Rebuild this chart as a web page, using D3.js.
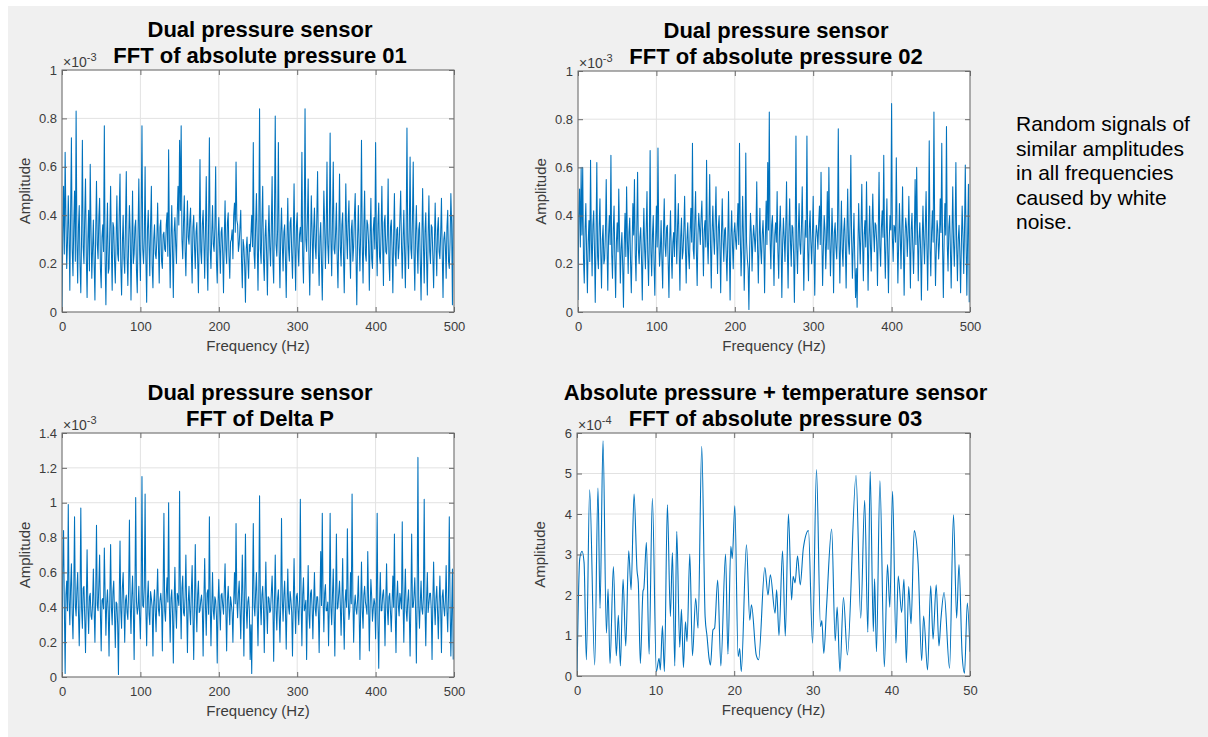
<!DOCTYPE html>
<html lang="en">
<head>
<meta charset="UTF-8">
<title>FFT of pressure sensors</title>
<script src="https://d3js.org/d3.v7.min.js"></script>
<style>
  body { margin: 0; background: #fff; }
  text { font-family: "Liberation Sans", Arial, sans-serif; }
</style>
</head>
<body>
<script>

// amplitude values, in units of the axis exponent (x10^-3 or x10^-4)
// noise panels: one value per 1 Hz bin, 0..499 Hz
var binStep = 1;

var amp01 = [
  0.02, 0.31, 0.52, 0.24, 0.66, 0.38, 0.18, 0.29, 0.48, 0.33,
  0.09, 0.41, 0.72, 0.26, 0.15, 0.36, 0.50, 0.21, 0.83, 0.30,
  0.12, 0.35, 0.44, 0.19, 0.08, 0.32, 0.71, 0.27, 0.20, 0.40,
  0.55, 0.23, 0.06, 0.30, 0.42, 0.17, 0.61, 0.34, 0.14, 0.26,
  0.38, 0.20, 0.05, 0.33, 0.54, 0.28, 0.22, 0.39, 0.47, 0.18,
  0.10, 0.31, 0.36, 0.25, 0.77, 0.22, 0.03, 0.29, 0.45, 0.16,
  0.18, 0.34, 0.52, 0.26, 0.09, 0.37, 0.35, 0.21, 0.12, 0.30,
  0.48, 0.24, 0.21, 0.41, 0.57, 0.19, 0.07, 0.28, 0.40, 0.22,
  0.16, 0.36, 0.58, 0.23, 0.11, 0.29, 0.44, 0.32, 0.05, 0.27,
  0.50, 0.20, 0.24, 0.35, 0.38, 0.17, 0.08, 0.33, 0.55, 0.25,
  0.13, 0.38, 0.77, 0.26, 0.20, 0.31, 0.60, 0.22, 0.04, 0.34,
  0.42, 0.28, 0.15, 0.37, 0.52, 0.19, 0.10, 0.30, 0.36, 0.24,
  0.22, 0.30, 0.45, 0.27, 0.12, 0.35, 0.38, 0.21, 0.18, 0.32,
  0.33, 0.26, 0.25, 0.36, 0.41, 0.23, 0.67, 0.29, 0.10, 0.31,
  0.44, 0.25, 0.06, 0.33, 0.39, 0.28, 0.20, 0.40, 0.52, 0.36,
  0.71, 0.42, 0.77, 0.30, 0.22, 0.37, 0.48, 0.26, 0.15, 0.32,
  0.46, 0.31, 0.28, 0.38, 0.43, 0.24, 0.12, 0.35, 0.40, 0.27,
  0.18, 0.33, 0.37, 0.22, 0.08, 0.30, 0.63, 0.25, 0.20, 0.36,
  0.42, 0.29, 0.14, 0.34, 0.56, 0.23, 0.09, 0.38, 0.72, 0.26,
  0.18, 0.32, 0.44, 0.28, 0.25, 0.35, 0.60, 0.21, 0.12, 0.30,
  0.39, 0.27, 0.16, 0.33, 0.35, 0.24, 0.08, 0.31, 0.46, 0.26,
  0.20, 0.37, 0.41, 0.23, 0.14, 0.29, 0.30, 0.34, 0.22, 0.40,
  0.45, 0.33, 0.62, 0.38, 0.36, 0.25, 0.28, 0.35, 0.42, 0.21,
  0.10, 0.30, 0.27, 0.19, 0.04, 0.26, 0.31, 0.22, 0.14, 0.28,
  0.25, 0.32, 0.40, 0.27, 0.70, 0.24, 0.18, 0.36, 0.49, 0.29,
  0.09, 0.33, 0.84, 0.26, 0.20, 0.38, 0.52, 0.22, 0.13, 0.31,
  0.38, 0.24, 0.07, 0.30, 0.44, 0.27, 0.19, 0.35, 0.56, 0.21,
  0.12, 0.39, 0.81, 0.28, 0.23, 0.34, 0.70, 0.25, 0.10, 0.32,
  0.43, 0.28, 0.17, 0.33, 0.36, 0.22, 0.06, 0.30, 0.47, 0.26,
  0.21, 0.37, 0.39, 0.24, 0.14, 0.31, 0.53, 0.27, 0.09, 0.35,
  0.41, 0.26, 0.19, 0.32, 0.35, 0.29, 0.66, 0.23, 0.12, 0.36,
  0.84, 0.30, 0.25, 0.38, 0.55, 0.22, 0.07, 0.28, 0.48, 0.33,
  0.16, 0.34, 0.43, 0.27, 0.22, 0.39, 0.58, 0.25, 0.11, 0.31,
  0.37, 0.20, 0.05, 0.29, 0.50, 0.36, 0.18, 0.33, 0.62, 0.28,
  0.20, 0.35, 0.74, 0.30, 0.15, 0.38, 0.62, 0.26, 0.24, 0.33,
  0.45, 0.22, 0.10, 0.31, 0.57, 0.27, 0.19, 0.36, 0.41, 0.24,
  0.08, 0.29, 0.53, 0.32, 0.22, 0.37, 0.46, 0.25, 0.14, 0.34,
  0.38, 0.21, 0.27, 0.40, 0.49, 0.23, 0.03, 0.30, 0.44, 0.28,
  0.17, 0.33, 0.71, 0.27, 0.12, 0.35, 0.50, 0.24, 0.21, 0.38,
  0.36, 0.29, 0.09, 0.31, 0.47, 0.22, 0.18, 0.34, 0.39, 0.26,
  0.70, 0.30, 0.15, 0.36, 0.45, 0.23, 0.20, 0.33, 0.52, 0.28,
  0.11, 0.37, 0.40, 0.25, 0.24, 0.32, 0.55, 0.21, 0.13, 0.35,
  0.38, 0.26, 0.08, 0.31, 0.49, 0.24, 0.19, 0.34, 0.35, 0.22,
  0.27, 0.39, 0.50, 0.28, 0.14, 0.30, 0.42, 0.25, 0.10, 0.33,
  0.76, 0.29, 0.18, 0.35, 0.64, 0.26, 0.22, 0.38, 0.62, 0.24,
  0.09, 0.32, 0.44, 0.27, 0.16, 0.34, 0.37, 0.21, 0.05, 0.30,
  0.51, 0.28, 0.12, 0.33, 0.41, 0.22, 0.07, 0.31, 0.48, 0.25,
  0.20, 0.36, 0.35, 0.23, 0.10, 0.29, 0.45, 0.27, 0.15, 0.34,
  0.39, 0.25, 0.22, 0.32, 0.47, 0.24, 0.06, 0.30, 0.33, 0.27,
  0.14, 0.35, 0.42, 0.21, 0.18, 0.29, 0.49, 0.36, 0.03, 0.40
];

var amp02 = [
  0.05, 0.40, 0.51, 0.27, 0.60, 0.32, 0.60, 0.22, 0.12, 0.34,
  0.45, 0.24, 0.08, 0.29, 0.38, 0.21, 0.63, 0.30, 0.15, 0.36,
  0.42, 0.26, 0.04, 0.31, 0.62, 0.23, 0.18, 0.35, 0.47, 0.25,
  0.10, 0.30, 0.36, 0.20, 0.22, 0.33, 0.55, 0.27, 0.09, 0.32,
  0.40, 0.28, 0.65, 0.24, 0.14, 0.34, 0.44, 0.22, 0.06, 0.29,
  0.37, 0.25, 0.51, 0.31, 0.12, 0.26, 0.33, 0.19, 0.02, 0.28,
  0.41, 0.23, 0.52, 0.30, 0.16, 0.33, 0.39, 0.21, 0.08, 0.27,
  0.45, 0.32, 0.55, 0.24, 0.13, 0.35, 0.58, 0.26, 0.20, 0.31,
  0.35, 0.22, 0.05, 0.28, 0.43, 0.26, 0.18, 0.34, 0.50, 0.23,
  0.11, 0.30, 0.67, 0.25, 0.15, 0.32, 0.40, 0.20, 0.07, 0.29,
  0.44, 0.27, 0.68, 0.31, 0.19, 0.25, 0.38, 0.22, 0.10, 0.33,
  0.47, 0.28, 0.23, 0.35, 0.36, 0.21, 0.06, 0.30, 0.42, 0.24,
  0.14, 0.29, 0.33, 0.23, 0.57, 0.32, 0.20, 0.36, 0.45, 0.26,
  0.09, 0.31, 0.39, 0.22, 0.25, 0.34, 0.48, 0.27, 0.12, 0.30,
  0.37, 0.24, 0.18, 0.33, 0.43, 0.29, 0.70, 0.26, 0.22, 0.38,
  0.50, 0.25, 0.11, 0.32, 0.41, 0.35, 0.28, 0.39, 0.46, 0.31,
  0.15, 0.34, 0.38, 0.27, 0.63, 0.30, 0.20, 0.36, 0.57, 0.28,
  0.10, 0.33, 0.44, 0.31, 0.24, 0.37, 0.52, 0.29, 0.16, 0.35,
  0.40, 0.27, 0.08, 0.32, 0.47, 0.30, 0.21, 0.34, 0.35, 0.24,
  0.13, 0.29, 0.50, 0.26, 0.05, 0.31, 0.42, 0.28, 0.18, 0.33,
  0.37, 0.30, 0.26, 0.35, 0.45, 0.28, 0.70, 0.32, 0.15, 0.27,
  0.48, 0.31, 0.09, 0.25, 0.66, 0.29, 0.22, 0.18, 0.01, 0.26,
  0.41, 0.33, 0.17, 0.29, 0.36, 0.31, 0.25, 0.34, 0.54, 0.27,
  0.12, 0.30, 0.43, 0.26, 0.20, 0.32, 0.38, 0.28, 0.08, 0.31,
  0.46, 0.28, 0.62, 0.34, 0.83, 0.30, 0.18, 0.36, 0.40, 0.27,
  0.11, 0.32, 0.37, 0.29, 0.50, 0.25, 0.14, 0.33, 0.44, 0.30,
  0.06, 0.28, 0.39, 0.31, 0.21, 0.35, 0.54, 0.26, 0.10, 0.33,
  0.47, 0.29, 0.19, 0.36, 0.35, 0.24, 0.04, 0.30, 0.73, 0.27,
  0.16, 0.33, 0.45, 0.28, 0.24, 0.35, 0.52, 0.30, 0.09, 0.27,
  0.38, 0.31, 0.73, 0.26, 0.13, 0.34, 0.42, 0.29, 0.20, 0.32,
  0.48, 0.25, 0.07, 0.30, 0.36, 0.33, 0.26, 0.37, 0.44, 0.28,
  0.58, 0.31, 0.11, 0.27, 0.40, 0.34, 0.18, 0.29, 0.50, 0.26,
  0.60, 0.32, 0.15, 0.28, 0.43, 0.30, 0.08, 0.33, 0.37, 0.27,
  0.22, 0.35, 0.76, 0.29, 0.12, 0.31, 0.46, 0.26, 0.19, 0.34,
  0.39, 0.27, 0.10, 0.32, 0.51, 0.29, 0.24, 0.36, 0.65, 0.30,
  0.14, 0.28, 0.41, 0.22, 0.06, 0.18, 0.02, 0.26, 0.45, 0.31,
  0.20, 0.34, 0.53, 0.29, 0.13, 0.32, 0.38, 0.27, 0.54, 0.31,
  0.09, 0.30, 0.44, 0.28, 0.17, 0.35, 0.49, 0.33, 0.25, 0.37,
  0.36, 0.29, 0.11, 0.33, 0.58, 0.27, 0.19, 0.35, 0.42, 0.31,
  0.65, 0.28, 0.14, 0.32, 0.47, 0.26, 0.08, 0.30, 0.40, 0.34,
  0.865, 0.31, 0.21, 0.36, 0.35, 0.29, 0.64, 0.33, 0.12, 0.28,
  0.45, 0.32, 0.18, 0.34, 0.52, 0.27, 0.07, 0.30, 0.39, 0.35,
  0.23, 0.32, 0.48, 0.29, 0.10, 0.34, 0.41, 0.27, 0.16, 0.31,
  0.55, 0.28, 0.60, 0.33, 0.13, 0.30, 0.37, 0.26, 0.05, 0.29,
  0.44, 0.30, 0.20, 0.35, 0.50, 0.28, 0.09, 0.32, 0.71, 0.27,
  0.15, 0.33, 0.42, 0.29, 0.83, 0.31, 0.11, 0.26, 0.38, 0.34,
  0.22, 0.29, 0.47, 0.33, 0.70, 0.27, 0.06, 0.30, 0.45, 0.32,
  0.77, 0.28, 0.17, 0.35, 0.40, 0.26, 0.10, 0.31, 0.52, 0.29,
  0.19, 0.33, 0.62, 0.27, 0.13, 0.30, 0.36, 0.25, 0.08, 0.28,
  0.44, 0.32, 0.16, 0.34, 0.61, 0.29, 0.07, 0.31, 0.53, 0.04
];

var ampDelta = [
  0.03, 0.62, 0.84, 0.40, 0.02, 0.47, 0.55, 0.38, 0.99, 0.44,
  0.30, 0.52, 0.65, 0.36, 0.22, 0.49, 0.92, 0.41, 0.35, 0.50,
  0.60, 0.37, 0.18, 0.45, 0.97, 0.39, 0.28, 0.51, 0.52, 0.34,
  0.14, 0.43, 0.73, 0.40, 0.25, 0.46, 0.48, 0.35, 0.33, 0.42,
  0.62, 0.38, 0.20, 0.48, 0.87, 0.41, 0.38, 0.53, 0.70, 0.36,
  0.15, 0.44, 0.45, 0.39, 0.74, 0.47, 0.24, 0.42, 0.50, 0.37,
  0.12, 0.45, 0.76, 0.40, 0.30, 0.49, 0.55, 0.36, 0.17, 0.43,
  0.42, 0.30, 0.015, 0.46, 0.78, 0.38, 0.28, 0.51, 0.60, 0.41,
  0.20, 0.44, 0.47, 0.37, 0.33, 0.50, 0.90, 0.42, 0.25, 0.46,
  0.58, 0.39, 0.10, 0.48, 1.03, 0.43, 0.36, 0.40, 0.52, 0.35,
  0.22, 0.47, 1.15, 0.41, 0.40, 0.52, 1.05, 0.38, 0.18, 0.45,
  0.55, 0.36, 0.30, 0.49, 0.45, 0.40, 0.12, 0.43, 0.50, 0.37,
  0.26, 0.46, 0.62, 0.39, 0.35, 0.44, 0.48, 0.41, 0.15, 0.50,
  0.94, 0.38, 0.32, 0.47, 0.57, 0.43, 1.00, 0.40, 0.20, 0.45,
  0.50, 0.36, 0.08, 0.42, 0.63, 0.39, 0.28, 0.48, 0.46, 0.41,
  1.065, 0.44, 0.22, 0.51, 0.58, 0.37, 0.35, 0.46, 0.70, 0.40,
  0.14, 0.43, 0.52, 0.38, 0.30, 0.49, 0.64, 0.35, 0.10, 0.42,
  0.76, 0.40, 0.26, 0.47, 0.55, 0.37, 0.38, 0.44, 0.47, 0.39,
  0.12, 0.45, 0.68, 0.41, 0.24, 0.48, 0.50, 0.36, 0.92, 0.43,
  0.18, 0.40, 0.60, 0.38, 0.33, 0.46, 0.44, 0.35, 0.08, 0.42,
  0.56, 0.39, 0.27, 0.47, 0.48, 0.41, 0.36, 0.50, 0.65, 0.38,
  0.15, 0.44, 0.52, 0.40, 0.30, 0.46, 0.42, 0.37, 0.20, 0.43,
  0.60, 0.42, 0.88, 0.45, 0.34, 0.48, 0.55, 0.39, 0.22, 0.44,
  0.70, 0.41, 0.12, 0.47, 0.82, 0.40, 0.28, 0.43, 0.46, 0.38,
  0.10, 0.30, 0.02, 0.46, 0.88, 0.41, 0.35, 0.49, 0.60, 0.38,
  0.18, 0.45, 1.04, 0.42, 0.30, 0.47, 0.52, 0.39, 0.14, 0.44,
  0.66, 0.40, 0.25, 0.46, 0.45, 0.37, 0.38, 0.48, 0.58, 0.41,
  0.09, 0.43, 0.70, 0.39, 0.27, 0.45, 0.50, 0.36, 0.20, 0.42,
  0.91, 0.44, 0.32, 0.47, 0.55, 0.38, 0.16, 0.42, 0.62, 0.40,
  0.36, 0.49, 0.44, 0.37, 0.12, 0.43, 0.68, 0.41, 0.25, 0.46,
  0.48, 0.39, 0.30, 0.45, 1.02, 0.42, 0.18, 0.47, 0.57, 0.38,
  0.40, 0.44, 0.10, 0.41, 0.64, 0.36, 0.28, 0.48, 0.50, 0.40,
  0.22, 0.43, 0.60, 0.39, 0.35, 0.46, 0.46, 0.37, 0.14, 0.44,
  0.72, 0.41, 0.94, 0.45, 0.26, 0.48, 0.53, 0.38, 0.38, 0.43,
  0.18, 0.42, 0.94, 0.40, 0.30, 0.47, 0.62, 0.37, 0.12, 0.45,
  0.82, 0.39, 0.40, 0.48, 0.55, 0.41, 0.24, 0.44, 0.68, 0.36,
  0.16, 0.43, 0.50, 0.40, 0.85, 0.45, 0.33, 0.38, 0.60, 0.42,
  1.05, 0.46, 0.20, 0.41, 0.47, 0.39, 0.36, 0.44, 0.58, 0.37,
  0.10, 0.41, 0.66, 0.38, 0.28, 0.47, 0.52, 0.43, 0.40, 0.36,
  0.72, 0.44, 0.15, 0.40, 0.56, 0.46, 0.32, 0.39, 0.45, 0.42,
  0.22, 0.45, 0.94, 0.30, 0.05, 0.43, 0.60, 0.38, 0.38, 0.47,
  0.50, 0.41, 0.18, 0.44, 0.65, 0.39, 0.30, 0.46, 0.48, 0.37,
  0.26, 0.42, 0.58, 0.40, 0.82, 0.37, 0.14, 0.45, 0.55, 0.41,
  0.35, 0.48, 0.44, 0.39, 0.89, 0.43, 0.20, 0.46, 0.62, 0.38,
  0.32, 0.44, 0.50, 0.36, 0.12, 0.42, 0.82, 0.40, 0.40, 0.47,
  0.57, 0.38, 0.08, 0.45, 1.26, 0.41, 0.28, 0.43, 0.55, 0.39,
  0.36, 0.46, 1.02, 0.40, 0.18, 0.44, 0.60, 0.37, 0.42, 0.48,
  0.48, 0.39, 0.10, 0.43, 0.66, 0.41, 0.30, 0.45, 0.52, 0.38,
  0.22, 0.42, 0.58, 0.39, 0.14, 0.46, 0.50, 0.40, 0.35, 0.44,
  0.64, 0.38, 0.26, 0.47, 0.92, 0.41, 0.12, 0.36, 0.62, 0.10
];

// 0..50 Hz panel: turning points (Hz, x10^-4)
var freq03 = [
  0, 0.35, 0.64, 0.9, 1.19, 1.61, 2.25, 2.67, 2.93, 3.31,
  3.74, 3.95, 4.2, 4.63, 5.0, 5.26, 5.52, 5.86, 6.2, 6.58,
  6.88, 7.26, 7.64, 7.8, 8.06, 8.4, 8.5, 8.83, 9.17, 9.59,
  10.1, 10.44, 10.6, 10.87, 11.12, 11.5, 11.88, 12.14, 12.44, 12.69,
  13.07, 13.29, 13.54, 13.8, 14.0, 14.35, 14.69, 15.1, 15.4, 15.87,
  16.3, 16.55, 16.8, 16.98, 17.3, 17.5, 17.9, 18.3, 18.9, 19.2,
  19.57, 19.75, 20.08, 20.5, 20.7, 20.9, 21.56, 21.98, 22.2, 22.8,
  23.1, 23.9, 24.3, 24.6, 25.2, 25.4, 25.7, 26.15, 26.5, 26.9,
  27.3, 27.5, 27.75, 28.06, 28.4, 28.8, 29.45, 29.97, 30.47, 30.98,
  31.15, 31.4, 31.75, 32.4, 32.85, 33.1, 33.45, 33.9, 34.4, 35.5,
  36.1, 36.6, 37.0, 37.3, 37.7, 37.86, 38.1, 38.54, 39.1, 39.5,
  39.8, 40.15, 40.58, 40.87, 41.3, 41.6, 41.9, 42.2, 42.5, 42.9,
  43.4, 43.85, 44.1, 44.6, 45.0, 45.3, 45.7, 46.05, 46.3, 46.7,
  47.4, 47.9, 48.3, 48.6, 49.0, 49.3, 49.66, 50
];
var amp03 = [
  0, 2.9, 3.08, 2.8, 0.4, 4.6, 0.27, 4.64, 1.67, 5.81,
  1.06, 2.15, 0.31, 2.7, 0.5, 1.5, 0.25, 2.39, 0.74, 3.09,
  2.13, 4.49, 2.6, 2.3, 0.31, 2.1, 2.15, 3.3, 0.54, 4.39,
  0.11, 0.44, 0.15, 1.24, 0.11, 4.23, 1.47, 3.05, 0.25, 3.57,
  0.71, 1.65, 0.21, 1.34, 0.85, 3.01, 0.5, 1.92, 1.18, 5.67,
  1.47, 0.97, 0.44, 0.27, 1.14, 1.18, 2.37, 0.25, 3.01, 0.54,
  3.2, 2.9, 4.2, 0.48, 0.68, 0.11, 3.24, 1.38, 1.76, 0.52,
  0.4, 2.68, 2.0, 2.5, 1.55, 2.13, 1.0, 3.09, 0.99, 4.0,
  1.88, 2.46, 2.3, 2.97, 2.25, 3.16, 3.59, 0.81, 5.1, 1.22,
  1.37, 0.56, 1.71, 3.63, 0.87, 1.7, 0.11, 1.94, 0.52, 4.95,
  1.43, 4.34, 1.08, 5.05, 1.1, 2.4, 0.6, 4.82, 0.23, 2.75,
  1.7, 4.56, 0.81, 2.47, 1.57, 2.39, 0.33, 2.21, 1.29, 3.59,
  2.78, 0.38, 1.48, 0.15, 2.23, 0.91, 2.25, 0.74, 1.4, 2.06,
  0.19, 3.98, 1.43, 2.75, 0.52, 0.07, 1.8, 0.6
];

// tick labels
var xTicks500 = [0, 100, 200, 300, 400, 500];
var xTicks50 = [0, 10, 20, 30, 40, 50];
var yTicks1 = [0, 0.2, 0.4, 0.6, 0.8, 1];
var yTicks14 = [0, 0.2, 0.4, 0.6, 0.8, 1, 1.2, 1.4];
var yTicks6 = [0, 1, 2, 3, 4, 5, 6];

var titles = [
  ["Dual pressure sensor", "FFT of absolute pressure 01"],
  ["Dual pressure sensor", "FFT of absolute pressure 02"],
  ["Dual pressure sensor", "FFT of Delta P"],
  ["Absolute pressure + temperature sensor", "FFT of absolute pressure 03"]
];
var exponents = ["-3", "-3", "-3", "-4"];

var note = ["Random signals of", "similar amplitudes", "in all frequencies",
            "caused by white", "noise."];

var w = 1208, h = 737;
var blue = "#0072bd";

var svg = d3.select("body").append("svg")
    .attr("width", w)
    .attr("height", h);

svg.append("rect").attr("width", w).attr("height", h).attr("fill", "#fff");
svg.append("rect").attr("x", 8).attr("y", 6)
    .attr("width", w - 8).attr("height", h - 6).attr("fill", "#f0f0f0");

function pairs(arr) {
  return arr.map(function(v, i) { return [i * binStep, v]; });
}

var panels = [
  {left: 62,  top: 70,  right: 454, bottom: 312, xMax: 500, yMax: 1,   xt: xTicks500, yt: yTicks1,  data: pairs(amp01), curve: d3.curveLinear},
  {left: 578, top: 71,  right: 970, bottom: 312, xMax: 500, yMax: 1,   xt: xTicks500, yt: yTicks1,  data: pairs(amp02), curve: d3.curveLinear},
  {left: 62,  top: 433, right: 454, bottom: 677, xMax: 500, yMax: 1.4, xt: xTicks500, yt: yTicks14, data: pairs(ampDelta), curve: d3.curveLinear},
  {left: 577, top: 433, right: 970, bottom: 676, xMax: 50,  yMax: 6,   xt: xTicks50,  yt: yTicks6,
   data: freq03.map(function(f, i) { return [f, amp03[i]]; }), curve: d3.curveMonotoneX}
];

panels.forEach(function(p, k) {
  var pw = p.right - p.left, ph = p.bottom - p.top;
  var x = d3.scaleLinear().domain([0, p.xMax]).range([0, pw]);
  var y = d3.scaleLinear().domain([0, p.yMax]).range([ph, 0]);

  var g = svg.append("g").attr("transform", "translate(" + p.left + "," + p.top + ")");

  g.append("rect").attr("width", pw).attr("height", ph).attr("fill", "#fff");

  // grid
  g.append("g").selectAll("line").data(p.xt).enter().append("line")
      .attr("x1", function(d) { return x(d); }).attr("x2", function(d) { return x(d); })
      .attr("y1", 0).attr("y2", ph)
      .attr("stroke", "#e2e2e2").attr("stroke-width", 1);
  g.append("g").selectAll("line").data(p.yt).enter().append("line")
      .attr("x1", 0).attr("x2", pw)
      .attr("y1", function(d) { return y(d); }).attr("y2", function(d) { return y(d); })
      .attr("stroke", "#e2e2e2").attr("stroke-width", 1);

  // data line
  var clipId = "clip" + k;
  g.append("clipPath").attr("id", clipId).append("rect")
      .attr("width", pw).attr("height", ph);
  var line = d3.line()
      .x(function(d) { return x(d[0]); })
      .y(function(d) { return y(d[1]); })
      .curve(p.curve);
  g.append("path").datum(p.data)
      .attr("clip-path", "url(#" + clipId + ")")
      .attr("fill", "none")
      .attr("stroke", blue)
      .attr("stroke-width", k === 3 ? 1.1 : 1.05)
      .attr("stroke-linejoin", "round")
      .attr("d", line);

  // axes, ticks pointing inward on all four sides
  var fmt = d3.format("~g");
  var axL = g.append("g").call(d3.axisLeft(y).tickValues(p.yt).tickSizeInner(-5).tickSizeOuter(0).tickPadding(5).tickFormat(fmt));
  var axB = g.append("g").attr("transform", "translate(0," + ph + ")")
      .call(d3.axisBottom(x).tickValues(p.xt).tickSizeInner(-5).tickSizeOuter(0).tickPadding(10).tickFormat(fmt));
  var axR = g.append("g").attr("transform", "translate(" + pw + ",0)")
      .call(d3.axisRight(y).tickValues(p.yt).tickSizeInner(-5).tickSizeOuter(0).tickFormat(""));
  var axT = g.append("g")
      .call(d3.axisTop(x).tickValues(p.xt).tickSizeInner(-5).tickSizeOuter(0).tickFormat(""));
  [axL, axB, axR, axT].forEach(function(a) {
    a.select(".domain").remove();
    a.selectAll("line").attr("stroke", "#6b6b6b");
    a.selectAll("text").attr("fill", "#3c3c3c")
        .style("font-size", "13px")
        .style("font-family", "'Liberation Sans', Arial, sans-serif");
  });

  g.append("rect").attr("width", pw).attr("height", ph)
      .attr("fill", "none").attr("stroke", "#6b6b6b").attr("stroke-width", 1);

  // exponent label
  var ex = g.append("text").attr("x", 1).attr("y", -3)
      .attr("fill", "#3c3c3c").style("font-size", "14px");
  ex.append("tspan").text("\u00d710");
  ex.append("tspan").attr("dy", -6).style("font-size", "11px").text(exponents[k]);

  // axis labels
  g.append("text")
      .attr("x", pw / 2).attr("y", ph + 39)
      .attr("text-anchor", "middle")
      .attr("fill", "#3c3c3c").style("font-size", "15px")
      .text("Frequency (Hz)");
  g.append("text")
      .attr("transform", "translate(-32," + (ph / 2) + ") rotate(-90)")
      .attr("text-anchor", "middle")
      .attr("fill", "#3c3c3c").style("font-size", "15px")
      .text("Amplitude");

  // title
  g.append("text")
      .attr("x", pw / 2 + 2).attr("y", -33)
      .attr("text-anchor", "middle")
      .style("font-size", "22px").style("font-weight", "bold")
      .attr("fill", "#000")
      .text(titles[k][0]);
  g.append("text")
      .attr("x", pw / 2 + 2).attr("y", -7)
      .attr("text-anchor", "middle")
      .style("font-size", "22px").style("font-weight", "bold")
      .attr("fill", "#000")
      .text(titles[k][1]);
});

// side note
svg.append("g").selectAll("text").data(note).enter().append("text")
    .attr("x", 1016)
    .attr("y", function(d, i) { return 131 + i * 24.5; })
    .attr("fill", "#000")
    .style("font-size", "21px")
    .text(function(d) { return d; });

</script>
</body>
</html>
